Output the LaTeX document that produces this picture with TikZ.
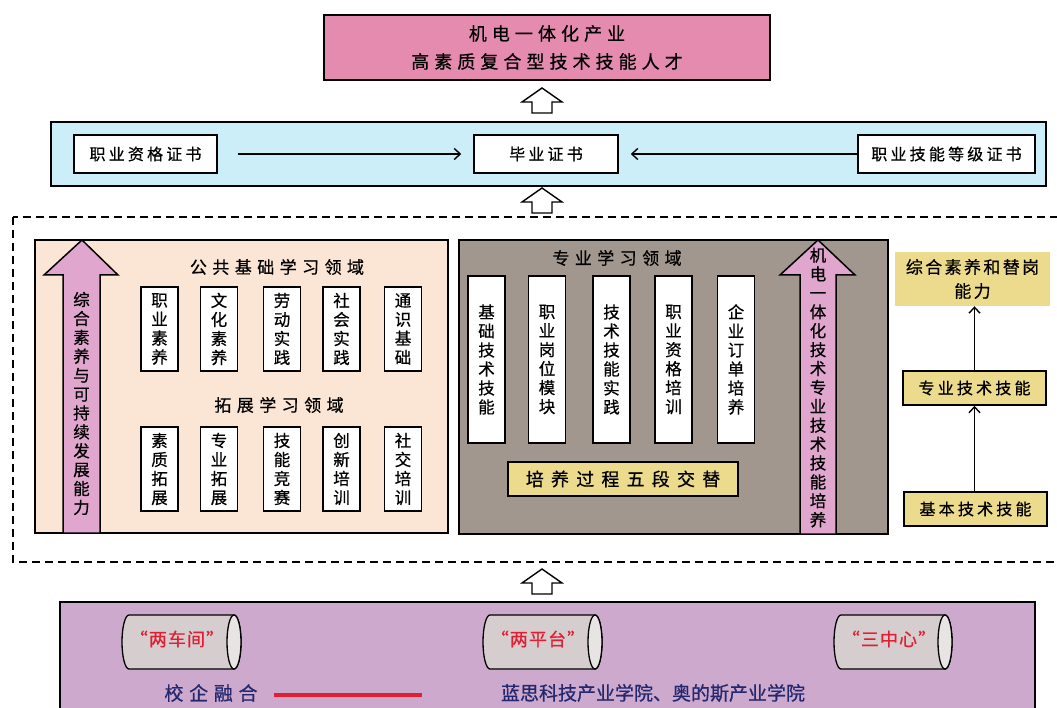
\documentclass[tikz,border=0pt]{standalone}
\usepackage{fontspec}
\setmainfont{Noto Sans CJK SC}[FakeBold=0.6]
\usetikzlibrary{arrows.meta}
\definecolor{toppink}{RGB}{229,139,176}
\definecolor{ltblue}{RGB}{204,238,248}
\definecolor{peach}{RGB}{251,230,214}
\definecolor{arrowpink}{RGB}{224,166,206}
\definecolor{brownbg}{RGB}{161,151,143}
\definecolor{ylw}{RGB}{236,219,141}
\definecolor{purplebg}{RGB}{205,169,206}
\definecolor{cylgray}{RGB}{214,206,206}
\definecolor{cylend}{RGB}{232,228,228}
\definecolor{navy}{RGB}{35,40,110}
\definecolor{redtxt}{RGB}{225,30,50}
\tikzset{
  box/.style={draw, line width=1.5pt, fill=white, inner sep=0pt, align=center},
  vbox/.style={box, minimum width=37pt, font=\fontsize{16.5}{19}\selectfont},
  cert/.style={box, minimum height=38pt, font={\fontsize{16}{19}\selectfont\addfontfeature{LetterSpace=20}}},
  heading/.style={inner sep=0pt, font={\fontsize{17}{20}\selectfont\addfontfeature{LetterSpace=32}}},
  skill/.style={box, fill=ylw, minimum width=143pt, minimum height=34pt, font={\fontsize{16}{19}\selectfont\addfontfeature{LetterSpace=20}}},
  hollow/.style={draw, fill=white, line width=1.4pt, line join=miter},
  bigarrow/.style={draw, fill=arrowpink, line width=1.5pt, line join=miter},
  vtext/.style={inner sep=0pt, align=center, font=\fontsize{16.5}{18.9}\selectfont},
  thinarrow/.style={line width=1.4pt, -{Straight Barb[length=6pt,width=11pt,line width=1.4pt]}},
  cyl/.style={draw, line width=1.3pt, fill=cylgray},
  cyltext/.style={inner sep=0pt, text=redtxt, font={\fontsize{18}{20}\selectfont\addfontfeature{LetterSpace=6}}},
  bottomtext/.style={inner sep=0pt, text=navy, font=\fontsize{19}{22}\selectfont},
}
\newcommand\hollowup[2]{\draw[hollow] (#1,#2) -- ++(20,14) -- ++(-10,0) -- ++(0,11) -- ++(-20,0) -- ++(0,-11) -- ++(-10,0) -- cycle;}
\newcommand\drawcyl[3]{% left x, right x, center y
  \draw[cyl] (#1+7,#3-27) -- (#2-7,#3-27) arc[start angle=-90, end angle=90, x radius=7, y radius=27]
     -- (#1+7,#3+27) arc[start angle=90, end angle=270, x radius=7, y radius=27] -- cycle;
  \draw[cyl, fill=cylend] (#2-7,#3) ellipse[x radius=7, y radius=27];}
\begin{document}
\begin{tikzpicture}[x=1pt,y=-1pt]
\useasboundingbox (0,0) rectangle (1057,708);
\fill[white] (0,0) rectangle (1057,708);

% top goal
\node[box, fill=toppink, minimum width=446pt, minimum height=65pt,
      font={\fontsize{18}{28}\selectfont\addfontfeature{LetterSpace=28}}] (talent) at (547,47.5)
      {机电一体化产业\\高素质复合型技术技能人才};
\hollowup{542}{88}

% certificate band
\node[box, fill=ltblue, minimum width=995pt, minimum height=64pt] (band) at (548.5,154) {};
\node[cert, minimum width=143pt] (qual) at (145.5,154) {职业资格证书};
\node[cert, minimum width=144pt] (grad) at (546,154) {毕业证书};
\node[cert, minimum width=177pt] (level) at (946.5,154) {职业技能等级证书};
\draw[thinarrow, shorten <=20pt, shorten >=12pt] (qual) -- (grad);
\draw[thinarrow, shorten >=12pt] (level) -- (grad);
\hollowup{542}{188}

% dashed frame
\draw[line width=1.5pt, dash pattern=on 8pt off 5pt] (13,217) rectangle (1068,562);

% left panel
\node[box, fill=peach, minimum width=413pt, minimum height=293pt] (pub) at (241.5,386.5) {};
\draw[bigarrow] (82,240) -- (118,275) -- (100,275) -- (100,533) -- (63,533) -- (63,275) -- (44,275) -- cycle;
\node[vtext] (sus) at (81.5,403.5) {综\\合\\素\\养\\与\\可\\持\\续\\发\\展\\能\\力};
\node[heading] (pubh) at (277,267) {公共基础学习领域};
\node[heading] (exth) at (279,405) {拓展学习领域};
\node[vbox, minimum height=84pt] (p1) at (159.5,329) {职\\业\\素\\养};
\node[vbox, minimum height=84pt] (p2) at (219,329) {文\\化\\素\\养};
\node[vbox, minimum height=84pt] (p3) at (282,329) {劳\\动\\实\\践};
\node[vbox, minimum height=84pt] (p4) at (341.5,329) {社\\会\\实\\践};
\node[vbox, minimum height=84pt] (p5) at (403,329) {通\\识\\基\\础};
\node[vbox, minimum height=84pt] (e1) at (159.5,469) {素\\质\\拓\\展};
\node[vbox, minimum height=84pt] (e2) at (219,469) {专\\业\\拓\\展};
\node[vbox, minimum height=84pt] (e3) at (282,469) {技\\能\\竞\\赛};
\node[vbox, minimum height=84pt] (e4) at (341.5,469) {创\\新\\培\\训};
\node[vbox, minimum height=84pt] (e5) at (403,469) {社\\交\\培\\训};

% middle panel
\node[box, fill=brownbg, minimum width=429pt, minimum height=294pt] (pro) at (673.5,387) {};
\node[heading] (proh) at (617,258) {专业学习领域};
\node[vbox, minimum height=167pt] (m1) at (486.5,359.5) {基\\础\\技\\术\\技\\能};
\node[vbox, minimum height=167pt] (m2) at (547,359.5) {职\\业\\岗\\位\\模\\块};
\node[vbox, minimum height=167pt] (m3) at (611.5,359.5) {技\\术\\技\\能\\实\\践};
\node[vbox, minimum height=167pt] (m4) at (673.5,359.5) {职\\业\\资\\格\\培\\训};
\node[vbox, minimum height=167pt] (m5) at (736,359.5) {企\\业\\订\\单\\培\\养};
\node[box, fill=ylw, minimum width=230pt, minimum height=34pt,
      font={\fontsize{18}{20}\selectfont\addfontfeature{LetterSpace=40}}] (five) at (623,479) {培养过程五段交替};
\draw[bigarrow] (818,240) -- (855,275) -- (836,275) -- (836,534) -- (800,534) -- (800,275) -- (780,275) -- cycle;
\node[vtext] (mech) at (818,387.5) {机\\电\\一\\体\\化\\技\\术\\专\\业\\技\\术\\技\\能\\培\\养};

% right column
\node[fill=ylw, inner sep=0pt, minimum width=155pt, minimum height=54pt, align=center,
      font={\fontsize{17}{24}\selectfont\addfontfeature{LetterSpace=14}}] (comp) at (972.5,279) {综合素养和替岗\\能力};
\node[skill] (prof) at (974.5,388) {专业技术技能};
\node[skill] (basic) at (975.5,509) {基本技术技能};
\draw[thinarrow] (basic.north -| prof.south) -- (prof.south);
\draw[thinarrow] (prof.north) -- (prof.north |- comp.south);

\hollowup{542}{569}

% bottom base
\node[box, fill=purplebg, minimum width=975pt, minimum height=125pt, anchor=north west] (base) at (59,601) {};
\drawcyl{122}{241}{642}
\drawcyl{483}{602}{642}
\drawcyl{834}{952}{642}
\node[cyltext] (ws) at (177,639) {“两车间”};
\node[cyltext] (pf) at (538,639) {“两平台”};
\node[cyltext] (ct) at (889,639) {“三中心”};
\node[bottomtext, font={\fontsize{19}{22}\selectfont\addfontfeature{LetterSpace=30}}] (fuse) at (211,693) {校企融合};
\node[bottomtext] (coll) at (653,693) {蓝思科技产业学院、奥的斯产业学院};
\coordinate (rl1) at (274,695);
\coordinate (rl2) at (422,695);
\draw[redtxt, line width=4pt] (rl1) -- (rl2);
\end{tikzpicture}
\end{document}
